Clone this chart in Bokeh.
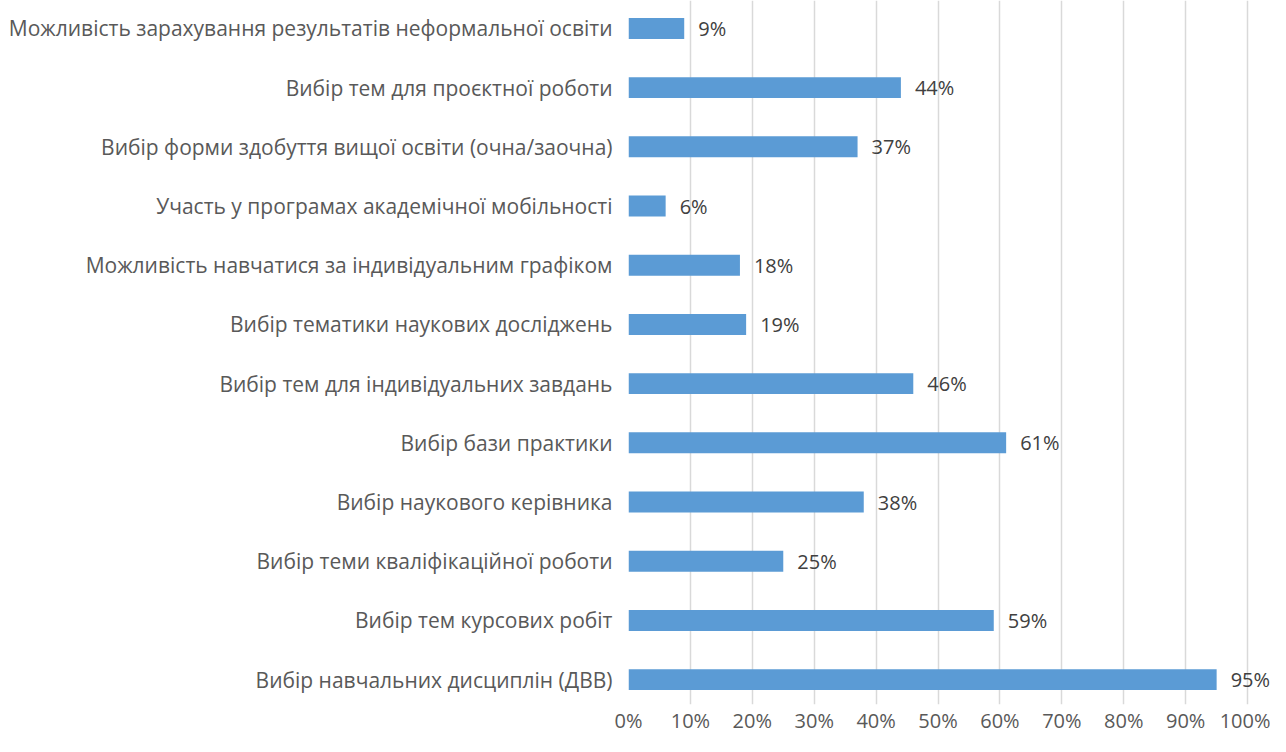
from bokeh.plotting import figure
from bokeh.models import ColumnDataSource, Range1d, FixedTicker, PrintfTickFormatter
from bokeh.core.properties import value
from bokeh.embed import file_html
from bokeh.resources import INLINE

categories = [
    "Можливість зарахування результатів неформальної освіти",
    "Вибір тем для проєктної роботи",
    "Вибір форми здобуття вищої освіти (очна/заочна)",
    "Участь у програмах академічної мобільності",
    "Можливість навчатися за індивідуальним графіком",
    "Вибір тематики наукових досліджень",
    "Вибір тем для індивідуальних завдань",
    "Вибір бази практики",
    "Вибір наукового керівника",
    "Вибір теми кваліфікаційної роботи",
    "Вибір тем курсових робіт",
    "Вибір навчальних дисциплін (ДВВ)",
]
values = [9, 44, 37, 6, 18, 19, 46, 61, 38, 25, 59, 95]
x_ticks = [0, 10, 20, 30, 40, 50, 60, 70, 80, 90, 100]

n = len(categories)
ypos = [n - 1 - i for i in range(n)]
labels = [f"{v}%" for v in values]

src = ColumnDataSource(dict(y=ypos, v=values, lab=labels, cat=categories))

FONT = "Open Sans"

p = figure(width=1270, height=736, output_backend="svg", toolbar_location=None,
           x_range=Range1d(0, 103.7), y_range=Range1d(-0.42, n - 1 + 0.472),
           min_border_left=628, min_border_right=0, min_border_top=0,
           min_border_bottom=30)
p.outline_line_color = None
p.background_fill_color = "white"
p.border_fill_color = "white"

p.hbar(y="y", right="v", left=0, height=0.354, source=src,
       fill_color="#5B9BD5", line_color=None)

p.text(x="v", y="y", text="lab", source=src, x_offset=14,
       text_baseline="middle", text_align="left",
       text_font=value(FONT), text_font_size="20px", text_color="#404040")

# x axis
p.xaxis.ticker = FixedTicker(ticks=x_ticks)
p.xaxis.formatter = PrintfTickFormatter(format="%d%%")
p.xaxis.axis_line_color = None
p.xaxis.major_tick_line_color = None
p.xaxis.minor_tick_line_color = None
p.xaxis.major_tick_out = 0
p.xaxis.major_tick_in = 0
p.xaxis.major_label_standoff = 2
p.xaxis.major_label_text_font = FONT
p.xaxis.major_label_text_font_size = "20px"
p.xaxis.major_label_text_color = "#595959"

# y axis
p.yaxis.ticker = FixedTicker(ticks=ypos)
p.yaxis.major_label_overrides = {y: c for y, c in zip(ypos, categories)}
p.yaxis.axis_line_color = None
p.yaxis.major_tick_line_color = None
p.yaxis.minor_tick_line_color = None
p.yaxis.major_tick_out = 0
p.yaxis.major_tick_in = 0
p.yaxis.major_label_standoff = 16
p.yaxis.major_label_text_font = FONT
p.yaxis.major_label_text_font_size = "21px"
p.yaxis.major_label_text_color = "#595959"

p.xgrid.grid_line_color = "#D9D9D9"
p.xgrid.grid_line_width = 1.5
p.ygrid.grid_line_color = None

open("out.html", "w").write(file_html(p, INLINE))
